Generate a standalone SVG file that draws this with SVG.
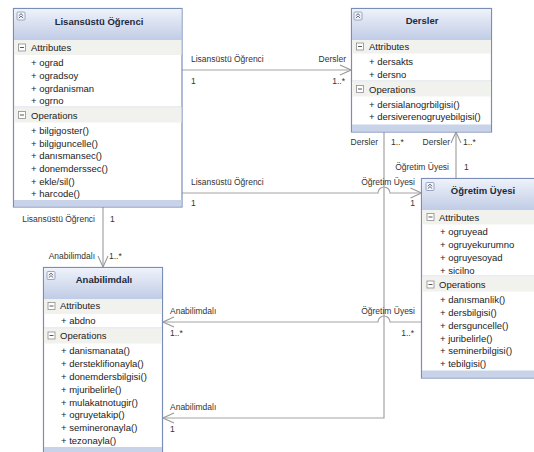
<svg xmlns="http://www.w3.org/2000/svg" xmlns:xlink="http://www.w3.org/1999/xlink" width="534" height="452" viewBox="0 0 534 452">
<defs>
<linearGradient id="hdr" x1="0" y1="0" x2="0" y2="1">
<stop offset="0" stop-color="#eef2fa"/>
<stop offset="1" stop-color="#c0cce6"/>
</linearGradient>
<marker id="arr" viewBox="-12 -6 13 12" refX="0" refY="0" markerWidth="13" markerHeight="12" markerUnits="userSpaceOnUse" orient="auto">
<path d="M-11,-5 L0,0 L-11,5" fill="none" stroke="#9a9a9a" stroke-width="1.1"/>
</marker>
<g id="colIcon">
<rect x="0.5" y="0.5" width="8" height="8" rx="1" fill="#f4f6fb" stroke="#8595b5" stroke-width="0.8"/>
<path d="M2.3,4.2 L4.5,2.2 L6.7,4.2 M2.3,6.6 L4.5,4.6 L6.7,6.6" fill="none" stroke="#445" stroke-width="0.8"/>
</g>
<g id="minIcon">
<rect x="0.5" y="0.5" width="7" height="7" fill="#fff" stroke="#8d8d8d" stroke-width="0.8"/>
<path d="M2,4 H6" stroke="#444" stroke-width="0.9"/>
</g>
</defs>
<style>
.box{fill:#ffffff;stroke:#7a8db6;stroke-width:1.2}
.hdr{fill:url(#hdr)}
.cmp{fill:#f1f1ed}
.band{fill:#c8d3e9}
.sep{stroke:#d3d8e2;stroke-width:1}
.title{font-family:"Liberation Sans",Arial,sans-serif;font-size:9.5px;font-weight:bold;fill:#1e2a3c;text-anchor:middle}
.ch{font-family:"Liberation Sans",Arial,sans-serif;font-size:9.5px;fill:#222}
.it{font-family:"Liberation Sans",Arial,sans-serif;font-size:9.5px;fill:#222}
.lbl{font-family:"Liberation Sans",Arial,sans-serif;font-size:8.5px;fill:#333}
.end{text-anchor:end}
.ln{fill:none;stroke:#a3a3a3;stroke-width:1.2}
</style>
<rect width="534" height="452" fill="#ffffff"/>

<g id="connectors">
<path class="ln" d="M182,70 H351" marker-end="url(#arr)"/>
<path class="ln" d="M182,193 H378 A6,6 0 0 1 390,193 H421.5" marker-end="url(#arr)"/>
<path class="ln" d="M103,207 V267" marker-end="url(#arr)"/>
<path class="ln" d="M384,132 V418 H163" marker-end="url(#arr)"/>
<path class="ln" d="M456,178 V132" marker-end="url(#arr)"/>
<path class="ln" d="M421.5,322 H390 A6,6 0 0 0 378,322 H163" marker-end="url(#arr)"/>
<text class="lbl" x="191" y="62">Lisansüstü Öğrenci</text>
<text class="lbl end" x="346" y="62">Dersler</text>
<text class="lbl" x="191" y="84">1</text>
<text class="lbl end" x="345" y="84">1..*</text>
<text class="lbl" x="191" y="185">Lisansüstü Öğrenci</text>
<text class="lbl end" x="415" y="185">Öğretim Üyesi</text>
<text class="lbl" x="191" y="206">1</text>
<text class="lbl end" x="415" y="206">1</text>
<text class="lbl end" x="95" y="222">Lisansüstü Öğrenci</text>
<text class="lbl" x="110" y="222">1</text>
<text class="lbl end" x="95" y="259">Anabilimdalı</text>
<text class="lbl" x="109" y="259">1..*</text>
<text class="lbl end" x="378" y="145">Dersler</text>
<text class="lbl" x="391" y="145">1..*</text>
<text class="lbl" x="170" y="410">Anabilimdalı</text>
<text class="lbl" x="170" y="432">1</text>
<text class="lbl end" x="450" y="145">Dersler</text>
<text class="lbl" x="463" y="145">1..*</text>
<text class="lbl end" x="449" y="170">Öğretim Üyesi</text>
<text class="lbl" x="464" y="170">1</text>
<text class="lbl" x="170" y="314">Anabilimdalı</text>
<text class="lbl" x="170" y="336">1..*</text>
<text class="lbl end" x="415" y="314">Öğretim Üyesi</text>
<text class="lbl end" x="414" y="336">1..*</text>
</g>

<g id="node-lisansustu">
<rect class="box" x="13.5" y="8.5" width="168.5" height="198.5"/>
<rect class="hdr" x="14" y="9" width="167.5" height="31"/>
<rect class="cmp" x="14" y="40" width="167.5" height="15"/>
<line class="sep" x1="14" y1="107" x2="181.5" y2="107"/>
<rect class="cmp" x="14" y="107.5" width="167.5" height="15"/>
<rect class="band" x="14" y="200" width="167.5" height="6.5"/>
<use xlink:href="#colIcon" x="16.5" y="11.5"/>
<text class="title" x="99" y="24.5">Lisansüstü Öğrenci</text>
<use xlink:href="#minIcon" x="18" y="43.5"/>
<text class="ch" x="31" y="50.5">Attributes</text>
<text class="it" x="31" y="65.5">+ ograd</text>
<text class="it" x="31" y="78.5">+ ogradsoy</text>
<text class="it" x="31" y="91.5">+ ogrdanisman</text>
<text class="it" x="31" y="103.5">+ ogrno</text>
<use xlink:href="#minIcon" x="18" y="111"/>
<text class="ch" x="31" y="118.5">Operations</text>
<text class="it" x="31" y="133.5">+ bilgigoster()</text>
<text class="it" x="31" y="146.5">+ bilgiguncelle()</text>
<text class="it" x="31" y="158.5">+ danısmansec()</text>
<text class="it" x="31" y="171.5">+ donemderssec()</text>
<text class="it" x="31" y="184.5">+ ekle/sil()</text>
<text class="it" x="31" y="197">+ harcode()</text>
</g>

<g id="node-dersler">
<rect class="box" x="351.5" y="8.5" width="140" height="123.5"/>
<rect class="hdr" x="352" y="9" width="139" height="31"/>
<rect class="cmp" x="352" y="40" width="139" height="13.5"/>
<line class="sep" x1="352" y1="81" x2="491" y2="81"/>
<rect class="cmp" x="352" y="81.5" width="139" height="15"/>
<rect class="band" x="352" y="124.5" width="139" height="7"/>
<use xlink:href="#colIcon" x="353.5" y="11.5"/>
<text class="title" x="422" y="24">Dersler</text>
<use xlink:href="#minIcon" x="356" y="42.5"/>
<text class="ch" x="369" y="49.5">Attributes</text>
<text class="it" x="369" y="64.5">+ dersakts</text>
<text class="it" x="369" y="77.5">+ dersno</text>
<use xlink:href="#minIcon" x="356" y="85"/>
<text class="ch" x="369" y="92.5">Operations</text>
<text class="it" x="369" y="107.5">+ dersialanogrbilgisi()</text>
<text class="it" x="369" y="119.5">+ dersiverenogruyebilgisi()</text>
</g>

<g id="node-ogretim">
<rect class="box" x="421.5" y="178.5" width="122" height="199.5"/>
<rect class="hdr" x="422" y="179" width="121" height="31"/>
<rect class="cmp" x="422" y="210" width="121" height="14.5"/>
<line class="sep" x1="422" y1="276" x2="543" y2="276"/>
<rect class="cmp" x="422" y="276.5" width="121" height="15"/>
<rect class="band" x="422" y="370.5" width="121" height="7"/>
<use xlink:href="#colIcon" x="425.5" y="182"/>
<text class="title" x="483" y="193.5">Öğretim Üyesi</text>
<use xlink:href="#minIcon" x="426.5" y="213"/>
<text class="ch" x="439" y="220.5">Attributes</text>
<text class="it" x="440" y="234.5">+ ogruyead</text>
<text class="it" x="440" y="247.5">+ ogruyekurumno</text>
<text class="it" x="440" y="260.5">+ ogruyesoyad</text>
<text class="it" x="440" y="273.5">+ sicilno</text>
<use xlink:href="#minIcon" x="426.5" y="280.5"/>
<text class="ch" x="439" y="288">Operations</text>
<text class="it" x="440" y="302.5">+ danısmanlik()</text>
<text class="it" x="440" y="315.5">+ dersbilgisi()</text>
<text class="it" x="440" y="328.5">+ dersguncelle()</text>
<text class="it" x="440" y="341.5">+ juribelirle()</text>
<text class="it" x="440" y="353.5">+ seminerbilgisi()</text>
<text class="it" x="440" y="366.5">+ tebilgisi()</text>
</g>

<g id="node-anabilimdali">
<rect class="box" x="43.5" y="267.5" width="119" height="190"/>
<rect class="hdr" x="44" y="268" width="118" height="31"/>
<rect class="cmp" x="44" y="299" width="118" height="15"/>
<line class="sep" x1="44" y1="328" x2="162" y2="328"/>
<rect class="cmp" x="44" y="328.5" width="118" height="15"/>
<rect class="band" x="44" y="447" width="118" height="10"/>
<use xlink:href="#colIcon" x="46.5" y="271"/>
<text class="title" x="104" y="282.5">Anabilimdalı</text>
<use xlink:href="#minIcon" x="47.5" y="302"/>
<text class="ch" x="60" y="308.5">Attributes</text>
<text class="it" x="61" y="323.5">+ abdno</text>
<use xlink:href="#minIcon" x="47.5" y="331.5"/>
<text class="ch" x="60" y="338.5">Operations</text>
<text class="it" x="61" y="353.5">+ danismanata()</text>
<text class="it" x="61" y="366.5">+ dersteklifionayla()</text>
<text class="it" x="61" y="379.5">+ donemdersbilgisi()</text>
<text class="it" x="61" y="392.5">+ mjuribelirle()</text>
<text class="it" x="61" y="405.5">+ mulakatnotugir()</text>
<text class="it" x="61" y="417.5">+ ogruyetakip()</text>
<text class="it" x="61" y="430.5">+ semineronayla()</text>
<text class="it" x="61" y="443.5">+ tezonayla()</text>
</g>
</svg>
